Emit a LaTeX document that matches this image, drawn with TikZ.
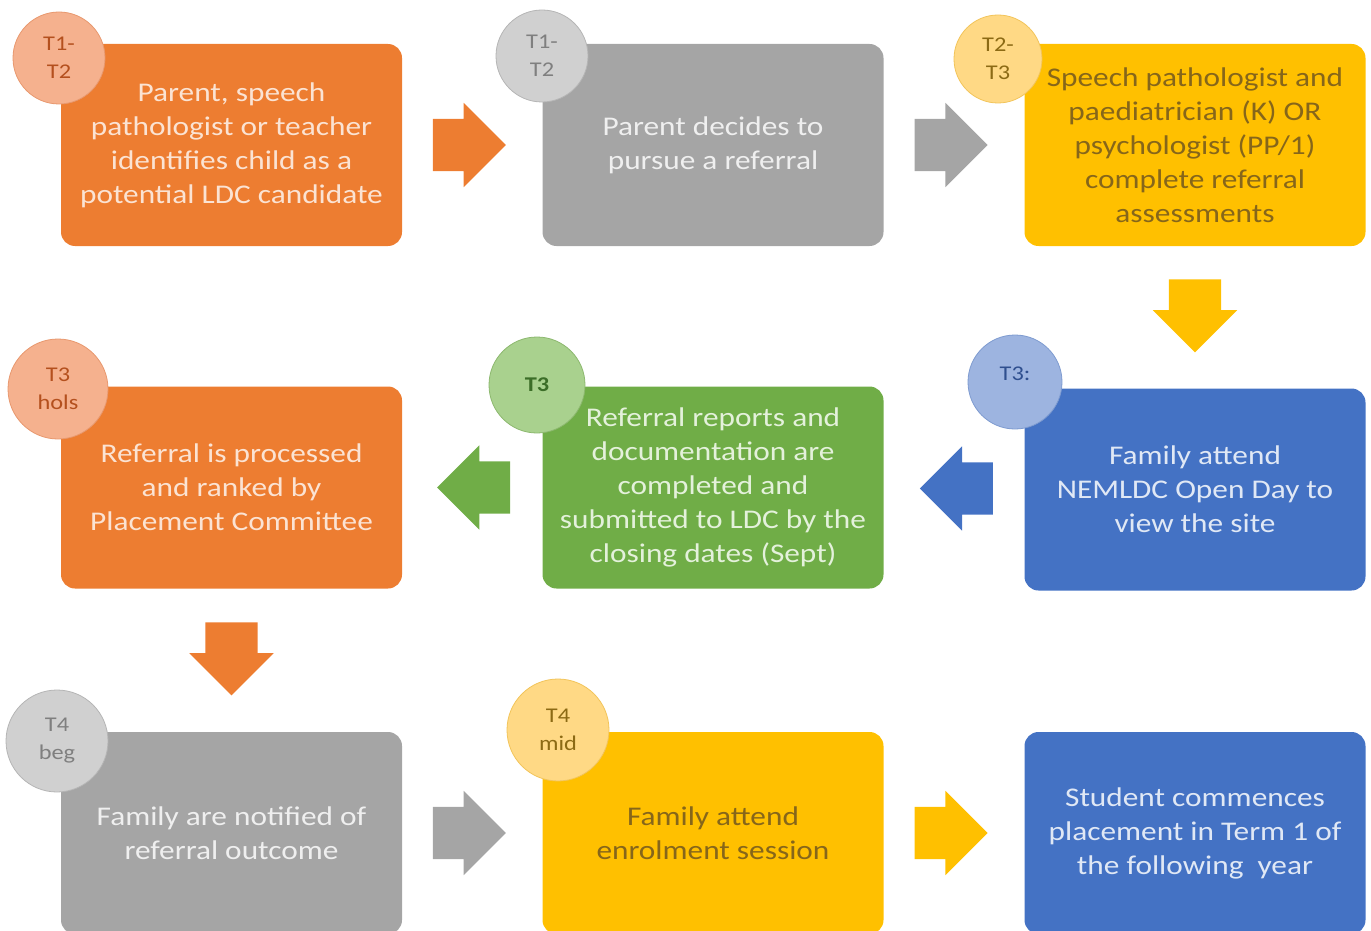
\documentclass[tikz,border=0pt]{standalone}
\usepackage{fontspec}
\setmainfont{Carlito}[FakeStretch=1.16]
\usetikzlibrary{shapes.arrows,calc}
\definecolor{cOrange}{HTML}{ED7D31}
\definecolor{cGrey}{HTML}{A5A5A5}
\definecolor{cGold}{HTML}{FFC000}
\definecolor{cGreen}{HTML}{70AD47}
\definecolor{cBlue}{HTML}{4472C4}
\definecolor{tOrange}{HTML}{FBE3D3}
\definecolor{tGrey}{HTML}{EFEFEF}
\definecolor{tGold}{HTML}{86661A}
\definecolor{tGreen}{HTML}{E4F1DB}
\definecolor{tBlue}{HTML}{E0E8F5}
\definecolor{fOrange}{HTML}{F5B18E}
\definecolor{dOrange}{HTML}{E8986E}
\definecolor{kOrange}{HTML}{B4501E}
\definecolor{fGrey}{HTML}{D0D0D0}
\definecolor{dGrey}{HTML}{B5B5B5}
\definecolor{kGrey}{HTML}{7F7F7F}
\definecolor{fGold}{HTML}{FFD985}
\definecolor{dGold}{HTML}{F2C45A}
\definecolor{kGold}{HTML}{8C6A14}
\definecolor{fGreen}{HTML}{A9D18E}
\definecolor{dGreen}{HTML}{8CB86E}
\definecolor{kGreen}{HTML}{3C6E28}
\definecolor{fBlue}{HTML}{9DB4E0}
\definecolor{dBlue}{HTML}{7E9BD0}
\definecolor{kBlue}{HTML}{2F4F8F}
\begin{document}
\begin{tikzpicture}[x=1pt,y=-1pt,
  box/.style={rectangle, rounded corners=14pt, minimum width=341pt, minimum height=202pt,
    inner sep=0pt, align=center, font=\fontsize{27}{34}\selectfont},
  badge/.style={circle, inner sep=0pt, minimum size=92pt, line width=0.8pt, align=center,
    font=\fontsize{21}{28}\selectfont},
  blockarrow/.style={single arrow, single arrow head extend=16pt, single arrow head indent=0pt,
    minimum height=73pt, minimum width=84pt, inner sep=0pt, draw=none}]
\useasboundingbox (0,0) rectangle (1371,931);
\clip (0,0) rectangle (1371,931);

% boxes
\node[box, fill=cOrange, text=tOrange] (b1) at (231.5,145) {Parent, speech\\pathologist or teacher\\identifies child as a\\potential LDC candidate};
\node[box, fill=cGrey, text=tGrey] (b2) at (713,145) {Parent decides to\\pursue a referral};
\node[box, fill=cGold, text=tGold] (b3) at (1195,145) {Speech pathologist and\\paediatrician (K) OR\\psychologist (PP/1)\\complete referral\\assessments};
\node[box, fill=cOrange, text=tOrange] (b4) at (231.5,487.5) {Referral is processed\\and ranked by\\Placement Committee};
\node[box, fill=cGreen, text=tGreen] (b5) at (713,487.5) {Referral reports and\\documentation are\\completed and\\submitted to LDC by the\\closing dates (Sept)};
\node[box, fill=cBlue, text=tBlue] (b6) at (1195,489.5) {Family attend\\NEMLDC Open Day to\\view the site};
\node[box, fill=cGrey, text=tGrey] (b7) at (231.5,833) {Family are notified of\\referral outcome};
\node[box, fill=cGold, text=tGold] (b8) at (713,833) {Family attend\\enrolment session};
\node[box, fill=cBlue, text=tBlue] (b9) at (1195,833) {Student commences\\placement in Term 1 of\\the following~ year};

% badges
\node[badge, fill=fOrange, draw=dOrange, text=kOrange] (c1) at (59,58) {T1-\\T2};
\node[badge, fill=fGrey, draw=dGrey, text=kGrey] (c2) at (542,56) {T1-\\T2};
\node[badge, fill=fGold, draw=dGold, text=kGold, minimum size=88pt] (c3) at (998,59) {T2-\\T3};
\node[badge, fill=fOrange, draw=dOrange, text=kOrange, minimum size=100pt] (c4) at (58,389) {T3\\hols};
\node[badge, fill=fGreen, draw=dGreen, text=kGreen, minimum size=96pt] (c5) at (537,385) {\textbf{T3}};
\node[badge, fill=fBlue, draw=dBlue, text=kBlue, minimum size=94pt] (c6) at (1015,382) {\raisebox{16pt}{T3:}};
\node[badge, fill=fGrey, draw=dGrey, text=kGrey, minimum size=102pt] (c7) at (57,741) {T4\\beg};
\node[badge, fill=fGold, draw=dGold, text=kGold, minimum size=102pt] (c8) at (558,730) {T4\\mid};

% block arrows
\node[blockarrow, fill=cOrange] (a1) at ($(b1.east)!0.5!(b2.west)+(-16,0)$) {\rule{0pt}{52pt}};
\node[blockarrow, fill=cGrey] (a2) at ($(b2.east)!0.5!(b3.west)+(-16,0)$) {\rule{0pt}{52pt}};
\node[blockarrow, fill=cGold, rotate=-90] (a3) at ($(b3.south)!0.5!(b6.north)+(0,-14.5)$) {\rule{0pt}{52pt}};
\node[blockarrow, fill=cBlue, rotate=180] (a4) at ($(b6.west)!0.5!(b5.east)+(15.5,0)$) {\rule{0pt}{52pt}};
\node[blockarrow, fill=cGreen, rotate=180] (a5) at ($(b5.west)!0.5!(b4.east)+(14.5,0)$) {\rule{0pt}{52pt}};
\node[blockarrow, fill=cOrange, rotate=-90] (a6) at ($(b4.south)!0.5!(b7.north)+(0,-14.5)$) {\rule{0pt}{52pt}};
\node[blockarrow, fill=cGrey] (a7) at ($(b7.east)!0.5!(b8.west)+(-16,0)$) {\rule{0pt}{52pt}};
\node[blockarrow, fill=cGold] (a8) at ($(b8.east)!0.5!(b9.west)+(-16,0)$) {\rule{0pt}{52pt}};
\end{tikzpicture}
\end{document}
